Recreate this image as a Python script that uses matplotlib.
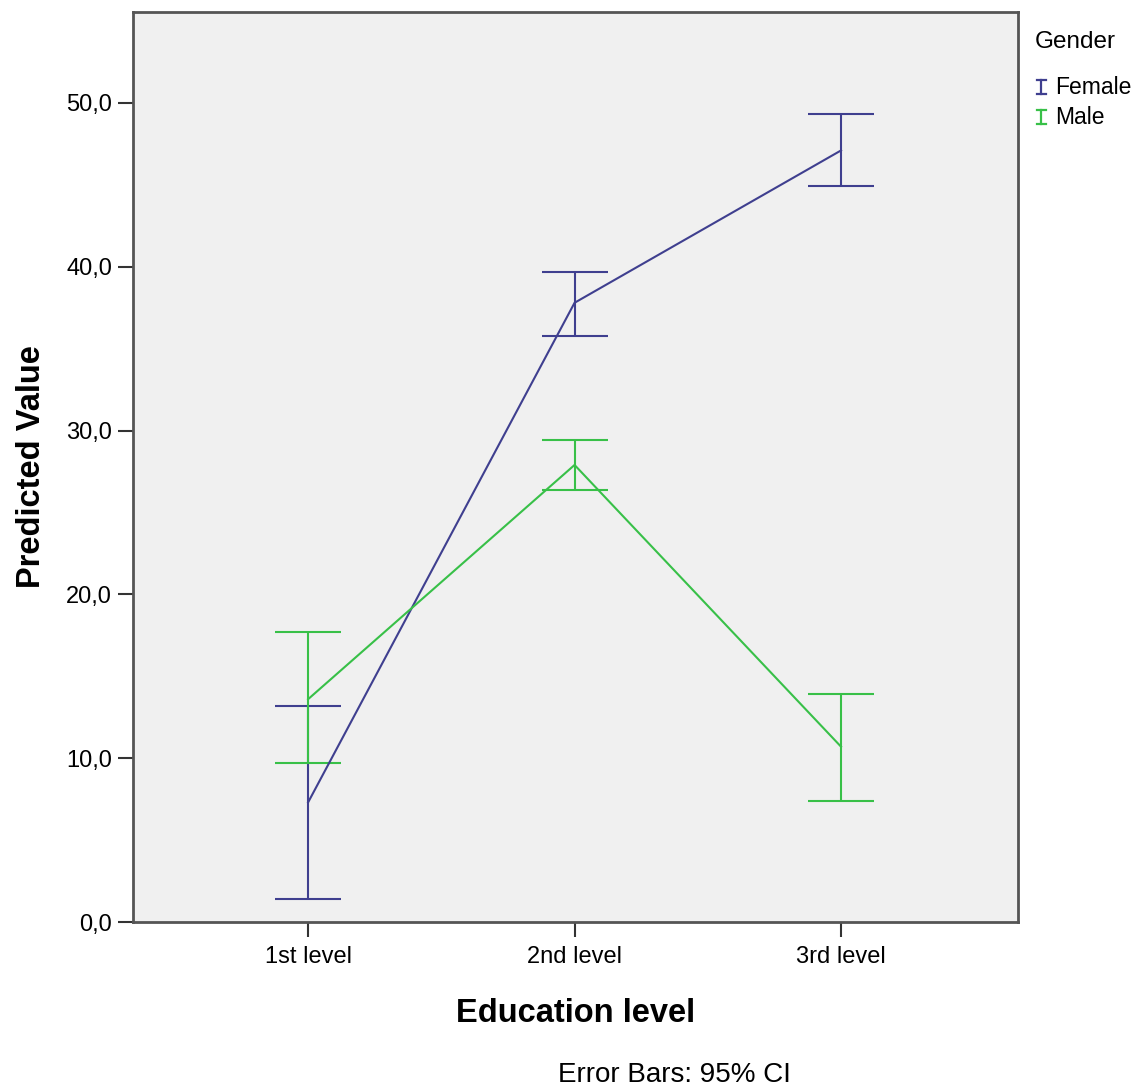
import matplotlib
matplotlib.use("Agg")
import matplotlib.pyplot as plt
from matplotlib.lines import Line2D
import numpy as np

# ── Data ────────────────────────────────────────────────────────────────
levels = ["1st level", "2nd level", "3rd level"]

female_mean = [7.3, 37.8, 47.1]
female_lo = [1.4, 35.8, 44.9]
female_hi = [13.2, 39.7, 49.3]

male_mean = [13.6, 27.9, 10.7]
male_lo = [9.7, 26.4, 7.4]
male_hi = [17.7, 29.4, 13.9]

FEMALE_C = "#3f3f8f"
MALE_C = "#38c048"

plt.rcParams["font.family"] = ["Liberation Sans", "DejaVu Sans"]

W, H = 1137, 1088
fig = plt.figure(figsize=(W / 100, H / 100), dpi=100)
ax = fig.add_axes([133 / W, 1 - 922 / H, (1018 - 133) / W, (922 - 12) / H])
ax.set_facecolor("#f0f0f0")

x = np.arange(len(levels))


def draw_series(mean, lo, hi, color):
    mean = np.array(mean)
    yerr = [mean - np.array(lo), np.array(hi) - mean]
    ax.errorbar(x, mean, yerr=yerr, color=color, linewidth=1.5,
                elinewidth=1.5, capsize=24, capthick=1.5)


draw_series(female_mean, female_lo, female_hi, FEMALE_C)
draw_series(male_mean, male_lo, male_hi, MALE_C)

ax.set_xlim(-0.657, 2.664)
ax.set_ylim(0, 55.55)
ax.set_xticks(x)
ax.set_xticklabels(levels, fontsize=17)
ax.set_yticks(np.arange(0, 51, 10))
ax.set_yticklabels([f"{v:.1f}".replace(".", ",") for v in np.arange(0, 51, 10)],
                   fontsize=17)
ax.tick_params(direction="out", length=11, width=1.5, color="#333333")
ax.tick_params(axis="x", pad=6)
ax.tick_params(axis="y", pad=4)
for s in ax.spines.values():
    s.set_color("#555555")
    s.set_linewidth(2)

ax.set_xlabel("Education level", fontsize=23.5, fontweight="bold", labelpad=22)
ax.set_ylabel("Predicted Value", fontsize=23.5, fontweight="bold", labelpad=14)


# legend drawn by hand, SPSS style (small error-bar glyphs)
def legend_glyph(cy, color):
    cx = 1041
    fx = lambda v: v / W
    fy = lambda v: 1 - v / H
    kw = dict(color=color, linewidth=1.6, transform=fig.transFigure)
    fig.add_artist(Line2D([fx(cx), fx(cx)], [fy(cy - 7), fy(cy + 7)], **kw))
    fig.add_artist(Line2D([fx(cx - 4.5), fx(cx + 4.5)], [fy(cy - 7), fy(cy - 7)], **kw))
    fig.add_artist(Line2D([fx(cx - 4.5), fx(cx + 4.5)], [fy(cy + 7), fy(cy + 7)], **kw))


fig.text(1035 / W, 1 - 42 / H, "Gender", fontsize=17.5, va="center", ha="left")
legend_glyph(87, FEMALE_C)
fig.text(1055 / W, 1 - 87 / H, "Female", fontsize=16.5, va="center", ha="left")
legend_glyph(117, MALE_C)
fig.text(1055 / W, 1 - 117 / H, "Male", fontsize=16.5, va="center", ha="left")

fig.text(674 / W, 1 - 1075 / H, "Error Bars: 95% CI", fontsize=20,
         ha="center", va="center")

fig.savefig("out.png", dpi=100)
